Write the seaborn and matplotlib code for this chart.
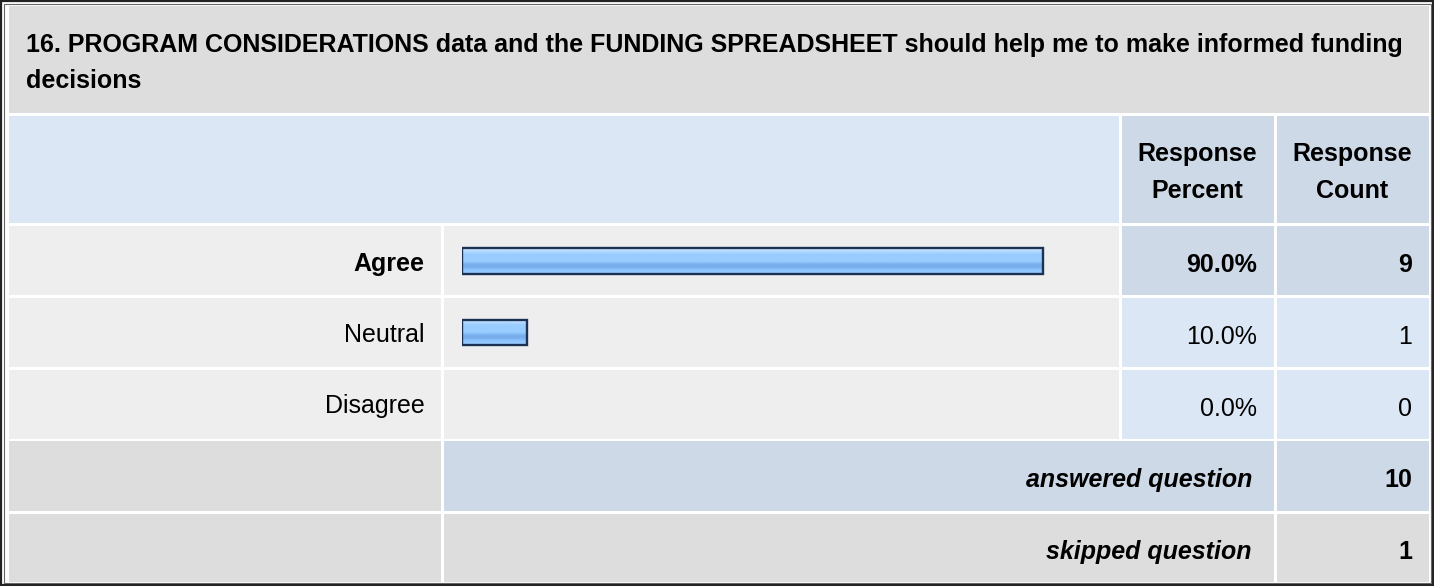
import numpy as np
import pandas as pd
import matplotlib
matplotlib.use('Agg')
import matplotlib.pyplot as plt
from matplotlib.patches import Rectangle
from matplotlib.colors import to_rgb
import seaborn as sns

# Data
title_lines = ['16. PROGRAM CONSIDERATIONS data and the FUNDING SPREADSHEET should help me to make informed funding',
               'decisions']
answers = ['Agree', 'Neutral', 'Disagree']
percents = [90.0, 10.0, 0.0]
counts = [9, 1, 0]
answered = 10
skipped = 1

df = pd.DataFrame({'Answer': answers, 'Percent': percents})
top = int(np.argmax(percents))

sns.set_style('white')
plt.rcParams['font.family'] = ['Liberation Sans', 'DejaVu Sans']
plt.rcParams['text.color'] = 'black'
plt.rcParams['ytick.color'] = 'black'

W, H = 1434, 586
fig = plt.figure(figsize=(W / 100, H / 100), dpi=100)
fig.patch.set_facecolor('white')

# background "table" axes in pixel coordinates
bg = fig.add_axes([0, 0, 1, 1])
bg.set_xlim(0, W)
bg.set_ylim(H, 0)
bg.axis('off')

GRAY = '#dddddd'
ROW = '#eeeeee'
LIGHT = '#dce7f5'
DARK = '#cdd9e6'
FS = 18


def cell(x0, y0, x1, y1, color):
    bg.add_patch(Rectangle((x0, y0), x1 - x0, y1 - y0, facecolor=color, edgecolor='none'))


# frame
bg.add_patch(Rectangle((1, 1), W - 2, H - 2, facecolor='none', edgecolor='#222222', lw=1.6))
bg.add_patch(Rectangle((3.5, 3.5), W - 7, H - 7, facecolor='none', edgecolor='#666666', lw=0.8))

# title
cell(9, 6, 1429, 113, GRAY)
bg.text(26, 52, title_lines[0], fontsize=FS, fontweight='bold', ha='left', va='baseline')
bg.text(26, 88, title_lines[1], fontsize=FS, fontweight='bold', ha='left', va='baseline')

# header
cell(9, 116, 1119, 223, LIGHT)
cell(1122, 116, 1274, 223, DARK)
cell(1277, 116, 1429, 223, DARK)
bg.text(1197, 161, 'Response', fontsize=FS, fontweight='bold', ha='center', va='baseline')
bg.text(1197, 198, 'Percent', fontsize=FS, fontweight='bold', ha='center', va='baseline')
bg.text(1352, 161, 'Response', fontsize=FS, fontweight='bold', ha='center', va='baseline')
bg.text(1352, 198, 'Count', fontsize=FS, fontweight='bold', ha='center', va='baseline')

# answer rows
row_tops = [226, 298, 370]
row_h = 69
for i, (p, c) in enumerate(zip(percents, counts)):
    y0 = row_tops[i]
    y1 = y0 + row_h
    fill = DARK if i == top else LIGHT
    cell(9, y0, 441, y1, ROW)
    cell(444, y0, 1119, y1, ROW)
    cell(1122, y0, 1274, y1, fill)
    cell(1277, y0, 1429, y1, fill)
    w = 'bold' if i == top else 'normal'
    yb = y0 + 46
    bg.text(1257, yb, f'{p:.1f}%', fontsize=FS, fontweight=w, ha='right', va='baseline')
    bg.text(1412, yb, str(c), fontsize=FS, fontweight=w, ha='right', va='baseline')

# summary rows
cell(9, 441, 441, 511, GRAY)
cell(444, 441, 1274, 511, DARK)
cell(1277, 441, 1429, 511, DARK)
bg.text(1252, 487, 'answered question', fontsize=FS, fontweight='bold', style='italic', ha='right', va='baseline')
bg.text(1412, 487, str(answered), fontsize=FS, fontweight='bold', ha='right', va='baseline')

cell(9, 514, 441, 582, GRAY)
cell(444, 514, 1274, 582, GRAY)
cell(1277, 514, 1429, 582, GRAY)
bg.text(1252, 559, 'skipped question', fontsize=FS, fontweight='bold', style='italic', ha='right', va='baseline')
bg.text(1412, 559, str(skipped), fontsize=FS, fontweight='bold', ha='right', va='baseline')

# bar axes
x0px, x1px = 462.25, 1107.25
y0px, y1px = 225.25, 439.75
ax = fig.add_axes([x0px / W, 1 - y1px / H, (x1px - x0px) / W, (y1px - y0px) / H])
ax.patch.set_alpha(0)

sns.barplot(data=df, x='Percent', y='Answer', orient='h', ax=ax, width=0.36,
            color='#99ccff', edgecolor='#1c3254', linewidth=1.7, saturation=1)

ax.set_xlim(0, 100)
ax.set_ylim(len(answers) - 0.5, -0.5)
ax.set_xlabel('')
ax.set_ylabel('')
ax.set_xticks([])
for s in ax.spines.values():
    s.set_visible(False)
ax.tick_params(axis='y', length=0, pad=27, labelsize=FS, labelcolor='black')
for i, lab in enumerate(ax.get_yticklabels()):
    if i == top:
        lab.set_fontweight('bold')

# glossy gradient inside bars
grad_cols = ['#d2e9ff', '#c6e2ff', '#b8dbff', '#aad5ff', '#a0d0ff', '#99ccff', '#99ccff', '#99ccff',
             '#99ccff', '#99ccff', '#99ccff', '#96c9fd', '#88bef5', '#7cb3ee', '#77aeea', '#77aeea',
             '#7bb3ef', '#86bcf8', '#8ec4ff', '#92c7ff', '#96caff', '#9acfff']
grad = np.array([to_rgb(c) for c in grad_cols])[:, None, :]
for p in list(ax.patches):
    if p.get_width() <= 0:
        p.set_visible(False)
        continue
    bx, by = p.get_x(), p.get_y()
    bw, bh = p.get_width(), p.get_height()
    p.set_facecolor('none')
    p.set_zorder(3)
    im = ax.imshow(grad, extent=[bx, bx + bw, by + bh, by], aspect='auto',
                   interpolation='bilinear', zorder=2)
    im.set_clip_path(p)

ax.set_xlim(0, 100)
ax.set_ylim(len(answers) - 0.5, -0.5)

plt.savefig('out.png', dpi=100)
